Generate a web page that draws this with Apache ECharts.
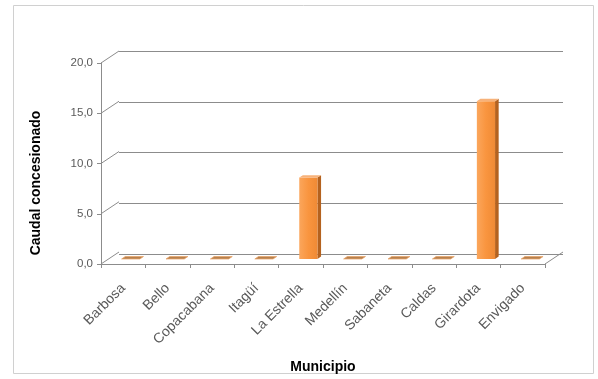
<!DOCTYPE html>
<html>
<head>
<meta charset="utf-8">
<script src="https://cdn.jsdelivr.net/npm/echarts@6/dist/echarts.min.js"></script>
<style>
  html, body { margin: 0; padding: 0; background: #fff; }
  #chart { width: 598px; height: 379px; }
</style>
</head>
<body>
<div id="chart"></div>
<script>
// Caudal concesionado por municipio
const municipios = ['Barbosa', 'Bello', 'Copacabana', 'Itagüí', 'La Estrella',
  'Medellín', 'Sabaneta', 'Caldas', 'Girardota', 'Envigado'];
const caudal = [0, 0, 0, 0, 8.1, 0, 0, 0, 15.7, 0];
const yTicks = [0, 5, 10, 15, 20];

// depth of the 3D box (screen offset from the front plane to the back wall)
const DX = 18, DY = -12;

const chart = echarts.init(document.getElementById('chart'), null, { renderer: 'canvas' });

const fmt = v => v.toFixed(1).replace('.', ',');
const labelFont = 'Liberation Sans';

// left-side connectors between front value ticks and back wall gridlines
function renderConnectors(params, api) {
  const v = api.value(0);
  const p = api.coord([0, v]);
  const x0 = params.coordSys.x;
  const children = [{
    type: 'line',
    shape: { x1: x0, y1: p[1], x2: x0 + DX, y2: p[1] + DY },
    style: { stroke: '#8c8c8c', lineWidth: 1 }
  }];
  if (v === 0) {
    // right edge of the floor
    const xr = params.coordSys.x + params.coordSys.width;
    children.push({
      type: 'line',
      shape: { x1: xr, y1: p[1], x2: xr + DX, y2: p[1] + DY },
      style: { stroke: '#8c8c8c', lineWidth: 1 }
    });
  }
  return { type: 'group', children };
}

// 3D columns: front face, side face and top face
function renderBar(params, api) {
  const idx = api.value(0);
  const val = api.value(1);
  const base = api.coord([idx, 0]);
  const top = api.coord([idx, val]);
  const bw = api.size([1, 0])[0];
  const w = bw * 0.41;
  const f0 = 0.42, f1 = 0.62;              // depth range occupied by the column
  const ox = DX * f0, oy = DY * f0;
  const dx = DX * (f1 - f0), dy = DY * (f1 - f0);
  const xl = base[0] - w / 2 + ox;
  const xr = xl + w;
  const yb = base[1] + oy;
  const yt = top[1] + oy;

  if (val <= 0) {
    return {
      type: 'polygon',
      shape: { points: [[xl, yb], [xr, yb], [xr + dx, yb + dy], [xl + dx, yb + dy]] },
      style: { fill: '#b5804f', stroke: '#e8a46a', lineWidth: 0.8 }
    };
  }
  return {
    type: 'group',
    children: [
      {
        type: 'polygon',
        shape: { points: [[xr, yb], [xr + dx, yb + dy], [xr + dx, yt + dy], [xr, yt]] },
        style: { fill: '#b4621f' }
      },
      {
        type: 'rect',
        shape: { x: xl, y: yt, width: w, height: yb - yt },
        style: {
          fill: new echarts.graphic.LinearGradient(0, 0, 1, 0, [
            { offset: 0, color: '#fba65c' },
            { offset: 0.5, color: '#f9953f' },
            { offset: 1, color: '#ef8a35' }
          ])
        }
      },
      {
        type: 'polygon',
        shape: { points: [[xl, yt], [xr, yt], [xr + dx, yt + dy], [xl + dx, yt + dy]] },
        style: { fill: '#f7b27a' }
      }
    ]
  };
}

const option = {
  animation: false,
  backgroundColor: '#ffffff',
  grid: [
    { left: 101, right: 53, top: 63, bottom: 113, containLabel: false },
    { left: 101 + DX, right: 53 - DX, top: 63 + DY, bottom: 113 - DY, containLabel: false }
  ],
  xAxis: [
    {
      type: 'category', gridIndex: 0, data: municipios,
      boundaryGap: true,
      axisLine: { show: true, lineStyle: { color: '#8c8c8c', width: 1 } },
      axisTick: { show: true, length: 4, lineStyle: { color: '#8c8c8c' } },
      axisLabel: {
        rotate: 45, margin: 22, interval: 0,
        color: '#595959', fontFamily: labelFont, fontSize: 14
      },
      splitLine: { show: false },
      name: 'Municipio', nameLocation: 'middle', nameGap: 96,
      nameTextStyle: { color: '#000', fontFamily: labelFont, fontSize: 14, fontWeight: 'bold' }
    },
    {
      type: 'category', gridIndex: 1, data: municipios, show: false
    }
  ],
  yAxis: [
    {
      type: 'value', gridIndex: 0, min: 0, max: 20, interval: 5,
      axisLine: { show: true, lineStyle: { color: '#8c8c8c', width: 1 } },
      axisTick: { show: true, length: 4, lineStyle: { color: '#8c8c8c' } },
      axisLabel: { formatter: fmt, color: '#595959', fontFamily: labelFont, fontSize: 11.5, margin: 8 },
      splitLine: { show: false }
    },
    {
      type: 'value', gridIndex: 1, min: 0, max: 20, interval: 5,
      axisLine: { show: false }, axisTick: { show: false }, axisLabel: { show: false },
      splitLine: { show: true, lineStyle: { color: '#8c8c8c', width: 1 } }
    }
  ],
  graphic: [
    {
      type: 'rect', z: -1,
      shape: { x: 13.5, y: 5.5, width: 580, height: 368 },
      style: { fill: 'none', stroke: '#d0d0d0', lineWidth: 1 }
    },
    {
      type: 'text', x: 36, y: 183, rotation: Math.PI / 2,
      style: {
        text: 'Caudal concesionado', fill: '#000', font: 'bold 14px "Liberation Sans"',
        textAlign: 'center', textVerticalAlign: 'middle'
      }
    }
  ],
  series: [
    {
      type: 'custom', xAxisIndex: 0, yAxisIndex: 0,
      renderItem: renderConnectors,
      data: yTicks.map(v => [v]),
      encode: { y: 0 }, z: 1, silent: true
    },
    {
      type: 'custom', xAxisIndex: 0, yAxisIndex: 0,
      renderItem: renderBar,
      data: caudal.map((v, i) => [i, v]),
      encode: { x: 0, y: 1 }, z: 5
    }
  ]
};

chart.setOption(option);
</script>
</body>
</html>
